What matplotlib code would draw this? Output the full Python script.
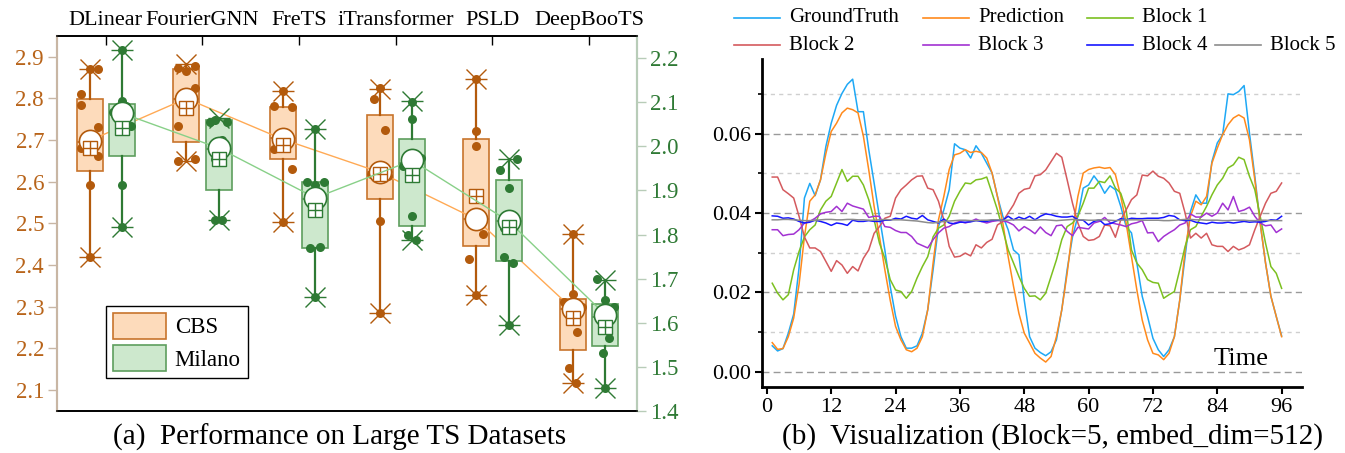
import numpy as np
import matplotlib
matplotlib.use('Agg')
import matplotlib.pyplot as plt
import matplotlib.patches as mpatches
from matplotlib.lines import Line2D
from matplotlib.ticker import MultipleLocator, FormatStrFormatter

plt.rcParams['font.family'] = ['Liberation Serif', 'DejaVu Serif']

# ---------------- (a) box data ----------------
models = ['DLinear', 'FourierGNN', 'FreTS', 'iTransformer', 'PSLD', 'DeepBooTS']

cbs_q1 = [2.626, 2.695, 2.654, 2.560, 2.446, 2.197]
cbs_med = [2.695, 2.800, 2.706, 2.623, 2.510, 2.294]
cbs_q3 = [2.798, 2.871, 2.780, 2.760, 2.703, 2.320]
cbs_lo = [2.419, 2.650, 2.503, 2.286, 2.328, 2.118]
cbs_hi = [2.871, 2.882, 2.818, 2.822, 2.846, 2.476]
cbs_mean = [2.699, 2.800, 2.702, 2.623, 2.510, 2.294]
cbs_square = [2.682, 2.778, 2.688, 2.618, 2.566, 2.274]
cbs_points = [
    [2.871, 2.872, 2.810, 2.784, 2.731, 2.682, 2.662, 2.592, 2.419],
    [2.874, 2.866, 2.878, 2.826, 2.735, 2.655, 2.650],
    [2.818, 2.782, 2.780, 2.720, 2.678, 2.630, 2.503],
    [2.826, 2.800, 2.724, 2.618, 2.614, 2.507, 2.286],
    [2.846, 2.723, 2.686, 2.474, 2.416, 2.328],
    [2.476, 2.332, 2.311, 2.300, 2.240, 2.154, 2.118],
]
cbs_jitter = [
    [0, 1, -1, -1, 1, -1, 1, 0, 0],
    [-1, 0, 1, 1, -1, 1, -1],
    [0, -1, 1, 0, -1, 1, 0],
    [0, -0.6, 0.6, -1, 1, 0, 0],
    [0, 0, 0, 0.8, -0.8, 0],
    [0, 0, -1, 1, 0.5, -0.5, 0.3],
]

mil_q1 = [1.979, 1.901, 1.769, 1.820, 1.740, 1.548]
mil_med = [2.075, 1.994, 1.881, 1.962, 1.830, 1.614]
mil_q3 = [2.096, 2.059, 1.918, 2.016, 1.924, 1.643]
mil_lo = [1.818, 1.833, 1.659, 1.788, 1.595, 1.453]
mil_hi = [2.219, 2.064, 2.039, 2.102, 1.971, 1.697]
mil_mean = [2.075, 1.996, 1.883, 1.968, 1.830, 1.618]
mil_square = [2.041, 1.971, 1.856, 1.935, 1.818, 1.590]
mil_points = [
    [2.219, 2.103, 2.077, 2.077, 2.092, 2.045, 1.913, 1.818],
    [2.055, 2.059, 2.055, 2.015, 1.971, 1.977, 1.833, 1.833],
    [2.039, 1.918, 1.913, 1.918, 1.852, 1.769, 1.771, 1.659],
    [2.100, 2.062, 1.956, 1.969, 1.973, 1.841, 1.798, 1.788],
    [1.947, 1.971, 1.905, 1.841, 1.815, 1.748, 1.735, 1.595],
    [1.699, 1.652, 1.635, 1.614, 1.614, 1.565, 1.531, 1.453],
]
mil_jitter = [
    [0, 0, -1, -0.3, 0.5, 1, 0, 0],
    [-1, -0.4, 1, 0.4, -0.4, 0.4, -0.4, 0.4],
    [0, -1, 0, 1, 0, -0.6, 0.5, 0],
    [0, 0, -1, 0, 1, 0, -0.5, 0.5],
    [-1, 1, 0, 0.5, -0.6, -0.6, 0.5, 0],
    [-1, 0, 1, -0.6, 0.6, 0.4, -0.3, 0],
]

# ---------------- (b) series ----------------
steps = list(range(1, 97))
ground_truth = [
    0.0065, 0.0052, 0.0058, 0.0097, 0.0145, 0.0262, 0.0438, 0.0475, 0.0444, 0.0484, 0.0568, 0.0627,
    0.0672, 0.0702, 0.0725, 0.0738, 0.0656, 0.0656, 0.0560, 0.0476, 0.0390, 0.0307, 0.0215, 0.0140,
    0.0088, 0.0059, 0.0059, 0.0065, 0.0097, 0.0156, 0.0257, 0.0366, 0.0408, 0.0459, 0.0575, 0.0564,
    0.0560, 0.0539, 0.0570, 0.0551, 0.0526, 0.0501, 0.0442, 0.0392, 0.0358, 0.0307, 0.0295, 0.0180,
    0.0088, 0.0059, 0.0048, 0.0040, 0.0050, 0.0080, 0.0156, 0.0257, 0.0340, 0.0392, 0.0463, 0.0471,
    0.0494, 0.0476, 0.0450, 0.0469, 0.0459, 0.0417, 0.0366, 0.0350, 0.0274, 0.0190, 0.0139, 0.0084,
    0.0055, 0.0038, 0.0055, 0.0088, 0.0180, 0.0290, 0.0404, 0.0446, 0.0425, 0.0425, 0.0530, 0.0577,
    0.0598, 0.0701, 0.0699, 0.0707, 0.0722, 0.0602, 0.0493, 0.0375, 0.0274, 0.0190, 0.0139, 0.0090]
prediction = [
    0.0073, 0.0056, 0.0058, 0.0088, 0.0135, 0.0220, 0.0340, 0.0430, 0.0446, 0.0484, 0.0550, 0.0606,
    0.0627, 0.0653, 0.0665, 0.0661, 0.0653, 0.0594, 0.0509, 0.0417, 0.0340, 0.0257, 0.0180, 0.0114,
    0.0080, 0.0055, 0.0050, 0.0059, 0.0088, 0.0156, 0.0274, 0.0383, 0.0442, 0.0510, 0.0547, 0.0551,
    0.0560, 0.0553, 0.0556, 0.0553, 0.0539, 0.0501, 0.0442, 0.0375, 0.0290, 0.0215, 0.0147, 0.0097,
    0.0072, 0.0046, 0.0034, 0.0024, 0.0038, 0.0088, 0.0156, 0.0248, 0.0358, 0.0442, 0.0501, 0.0510,
    0.0514, 0.0516, 0.0513, 0.0515, 0.0497, 0.0442, 0.0375, 0.0290, 0.0206, 0.0130, 0.0080, 0.0046,
    0.0042, 0.0030, 0.0046, 0.0088, 0.0180, 0.0307, 0.0392, 0.0430, 0.0421, 0.0442, 0.0526, 0.0564,
    0.0598, 0.0623, 0.0640, 0.0648, 0.0640, 0.0585, 0.0484, 0.0375, 0.0274, 0.0190, 0.0139, 0.0088]
block1 = [
    0.0223, 0.0198, 0.0181, 0.0194, 0.0257, 0.0303, 0.0340, 0.0358, 0.0370, 0.0408, 0.0430, 0.0442,
    0.0476, 0.0510, 0.0480, 0.0493, 0.0493, 0.0471, 0.0434, 0.0383, 0.0324, 0.0286, 0.0232, 0.0206,
    0.0202, 0.0185, 0.0202, 0.0236, 0.0265, 0.0290, 0.0340, 0.0362, 0.0370, 0.0392, 0.0430, 0.0455,
    0.0476, 0.0474, 0.0484, 0.0486, 0.0491, 0.0450, 0.0408, 0.0358, 0.0307, 0.0274, 0.0240, 0.0210,
    0.0190, 0.0191, 0.0181, 0.0198, 0.0240, 0.0282, 0.0333, 0.0366, 0.0375, 0.0392, 0.0425, 0.0463,
    0.0463, 0.0480, 0.0477, 0.0494, 0.0463, 0.0450, 0.0408, 0.0307, 0.0274, 0.0257, 0.0232, 0.0225,
    0.0223, 0.0185, 0.0194, 0.0202, 0.0257, 0.0316, 0.0358, 0.0366, 0.0392, 0.0417, 0.0446, 0.0471,
    0.0488, 0.0514, 0.0522, 0.0541, 0.0535, 0.0493, 0.0459, 0.0392, 0.0324, 0.0265, 0.0248, 0.0210]
block2 = [
    0.0491, 0.0491, 0.0459, 0.0449, 0.0438, 0.0392, 0.0340, 0.0312, 0.0312, 0.0303, 0.0278, 0.0253,
    0.0280, 0.0269, 0.0248, 0.0265, 0.0254, 0.0286, 0.0307, 0.0349, 0.0366, 0.0387, 0.0392, 0.0438,
    0.0459, 0.0471, 0.0484, 0.0493, 0.0494, 0.0463, 0.0459, 0.0430, 0.0383, 0.0316, 0.0289, 0.0291,
    0.0299, 0.0292, 0.0320, 0.0312, 0.0326, 0.0334, 0.0370, 0.0379, 0.0400, 0.0421, 0.0450, 0.0460,
    0.0463, 0.0494, 0.0497, 0.0509, 0.0530, 0.0551, 0.0541, 0.0484, 0.0425, 0.0375, 0.0341, 0.0331,
    0.0333, 0.0341, 0.0370, 0.0368, 0.0339, 0.0383, 0.0408, 0.0434, 0.0446, 0.0496, 0.0494, 0.0506,
    0.0493, 0.0488, 0.0476, 0.0455, 0.0450, 0.0400, 0.0337, 0.0349, 0.0337, 0.0349, 0.0320, 0.0316,
    0.0316, 0.0303, 0.0316, 0.0307, 0.0312, 0.0320, 0.0358, 0.0392, 0.0425, 0.0450, 0.0455, 0.0476]
block3 = [
    0.0358, 0.0358, 0.0343, 0.0346, 0.0347, 0.0358, 0.0375, 0.0379, 0.0387, 0.0398, 0.0402, 0.0404,
    0.0417, 0.0404, 0.0425, 0.0418, 0.0414, 0.0410, 0.0389, 0.0392, 0.0392, 0.0366, 0.0364, 0.0356,
    0.0351, 0.0351, 0.0341, 0.0324, 0.0318, 0.0312, 0.0333, 0.0350, 0.0362, 0.0366, 0.0375, 0.0379,
    0.0375, 0.0379, 0.0385, 0.0379, 0.0375, 0.0379, 0.0381, 0.0381, 0.0377, 0.0370, 0.0355, 0.0366,
    0.0358, 0.0348, 0.0365, 0.0351, 0.0343, 0.0368, 0.0370, 0.0354, 0.0343, 0.0364, 0.0362, 0.0360,
    0.0375, 0.0379, 0.0389, 0.0376, 0.0373, 0.0370, 0.0366, 0.0373, 0.0376, 0.0381, 0.0350, 0.0351,
    0.0328, 0.0341, 0.0350, 0.0358, 0.0370, 0.0375, 0.0398, 0.0390, 0.0390, 0.0400, 0.0392, 0.0400,
    0.0425, 0.0408, 0.0442, 0.0404, 0.0408, 0.0415, 0.0392, 0.0375, 0.0368, 0.0370, 0.0351, 0.0360]
block4 = [
    0.0393, 0.0392, 0.0387, 0.0388, 0.0385, 0.0379, 0.0375, 0.0377, 0.0382, 0.0379, 0.0375, 0.0369,
    0.0375, 0.0373, 0.0369, 0.0382, 0.0379, 0.0379, 0.0381, 0.0379, 0.0379, 0.0382, 0.0382, 0.0387,
    0.0385, 0.0392, 0.0387, 0.0385, 0.0394, 0.0383, 0.0379, 0.0375, 0.0385, 0.0375, 0.0373, 0.0377,
    0.0377, 0.0378, 0.0381, 0.0379, 0.0379, 0.0382, 0.0382, 0.0382, 0.0392, 0.0383, 0.0390, 0.0385,
    0.0392, 0.0383, 0.0392, 0.0398, 0.0396, 0.0392, 0.0390, 0.0390, 0.0392, 0.0383, 0.0382, 0.0370,
    0.0379, 0.0383, 0.0371, 0.0373, 0.0379, 0.0386, 0.0383, 0.0387, 0.0386, 0.0386, 0.0387, 0.0387,
    0.0387, 0.0389, 0.0394, 0.0392, 0.0383, 0.0381, 0.0382, 0.0377, 0.0375, 0.0373, 0.0377, 0.0375,
    0.0375, 0.0377, 0.0375, 0.0377, 0.0379, 0.0377, 0.0378, 0.0377, 0.0379, 0.0383, 0.0382, 0.0392]
block5 = [
    0.0383, 0.0383, 0.0384, 0.0384, 0.0383, 0.0382, 0.0381, 0.0381, 0.0382, 0.0383, 0.0384, 0.0384,
    0.0383, 0.0383, 0.0384, 0.0384, 0.0383, 0.0383, 0.0382, 0.0382, 0.0383, 0.0384, 0.0383, 0.0383,
    0.0383, 0.0382, 0.0381, 0.0380, 0.0378, 0.0376, 0.0375, 0.0377, 0.0379, 0.0380, 0.0381, 0.0382,
    0.0382, 0.0381, 0.0381, 0.0382, 0.0382, 0.0383, 0.0383, 0.0382, 0.0382, 0.0383, 0.0383, 0.0383,
    0.0382, 0.0382, 0.0383, 0.0383, 0.0382, 0.0381, 0.0382, 0.0383, 0.0384, 0.0383, 0.0383, 0.0382,
    0.0382, 0.0383, 0.0383, 0.0382, 0.0381, 0.0382, 0.0383, 0.0383, 0.0383, 0.0382, 0.0382, 0.0382,
    0.0382, 0.0381, 0.0381, 0.0382, 0.0383, 0.0384, 0.0384, 0.0383, 0.0383, 0.0382, 0.0382, 0.0382,
    0.0381, 0.0381, 0.0382, 0.0382, 0.0382, 0.0381, 0.0381, 0.0382, 0.0382, 0.0381, 0.0381, 0.0381]

series = [
    ('GroundTruth', ground_truth, '#1ea8f5'),
    ('Prediction', prediction, '#ff8a1c'),
    ('Block 1', block1, '#7cc020'),
    ('Block 2', block2, '#d45a5e'),
    ('Block 3', block3, '#a232d2'),
    ('Block 4', block4, '#1616ff'),
    ('Block 5', block5, '#8c8c8c'),
]

W, H = 1345, 453
fig = plt.figure(figsize=(W / 100, H / 100), dpi=100)


def px_axes(left, top, right, bottom):
    return fig.add_axes([left / W, 1 - bottom / H, (right - left) / W, (bottom - top) / H])


# ================= (a) =================
ax1 = px_axes(57.3, 36, 637.3, 411)
ax2 = ax1.twinx()
pos = np.arange(1, len(models) + 1)
cbs_pos = pos - 0.165
mil_pos = pos + 0.17


def draw_group(ax, xs, q1, med, q3, lo, hi, means, squares, pts, jit,
               fill, edge, dark, line_c):
    stats = [dict(q1=a, med=b, q3=c, whislo=d, whishi=e, fliers=[])
             for a, b, c, d, e in zip(q1, med, q3, lo, hi)]
    ax.bxp(stats, positions=xs, widths=0.27, patch_artist=True,
           showcaps=False, showfliers=False, manage_ticks=False,
           boxprops=dict(facecolor=fill, edgecolor=edge, linewidth=1.2),
           whiskerprops=dict(color=dark, linewidth=1.6),
           medianprops=dict(color=edge, linewidth=1.3), zorder=2)
    ax.plot(xs, means, color=line_c, lw=1.0, zorder=3)
    for x, vals, js in zip(xs, pts, jit):
        ax.plot(x + np.array(js) * 0.09, vals, 'o', ms=6.5, color=dark,
                mec='none', zorder=4)
    for ends in (lo, hi):
        ax.plot(xs, ends, 'x', ms=14, mew=1.0, color=dark, zorder=4)
        ax.plot(xs, ends, '_', ms=16, mew=1.0, color=dark, zorder=4)
    ax.plot(xs, means, 'o', ms=16, mfc='white', mec=dark, mew=1.2, zorder=5)
    ax.plot(xs, squares, 's', ms=9.5, mfc='white', mec=dark, mew=1.0, zorder=6)
    ax.plot(xs, squares, '+', ms=9.5, mew=1.0, color=dark, zorder=7)


cbs_fill, cbs_edge, cbs_dark = '#fddbbb', '#c8742c', '#b35a0c'
mil_fill, mil_edge, mil_dark = '#cde8cd', '#5e9e5e', '#2e7a34'

draw_group(ax1, cbs_pos, cbs_q1, cbs_med, cbs_q3, cbs_lo, cbs_hi, cbs_mean,
           cbs_square, cbs_points, cbs_jitter, cbs_fill, cbs_edge, cbs_dark, '#ffaa55')
draw_group(ax2, mil_pos, mil_q1, mil_med, mil_q3, mil_lo, mil_hi, mil_mean,
           mil_square, mil_points, mil_jitter, mil_fill, mil_edge, mil_dark, '#88d088')

ax1.set_xlim(0.5, 6.5)
ax1.set_ylim(2.05, 2.95)
ax2.set_ylim(1.4, 2.25)
ax1.set_yticks(np.arange(2.1, 2.91, 0.1))
ax2.set_yticks(np.arange(1.4, 2.21, 0.1))
ax1.yaxis.set_major_formatter(FormatStrFormatter('%.1f'))
ax2.yaxis.set_major_formatter(FormatStrFormatter('%.1f'))
ax1.xaxis.tick_top()
ax1.set_xticks(pos)
ax1.set_xticklabels(models, fontsize=16)
ax1.tick_params(axis='x', direction='in', length=6.5, width=1.0, pad=4, top=True, bottom=False)
ax1.tick_params(axis='y', direction='out', length=6.5, width=1.0, colors='#c8b6a4',
                labelcolor='#b8641a', labelsize=16.5, pad=3)
ax2.tick_params(axis='y', direction='out', length=6.5, width=1.0, colors='#b8ccb8',
                labelcolor='#2f7a35', labelsize=16.5, pad=3)
for ax in (ax1, ax2):
    ax.spines['top'].set_color('black')
    ax.spines['bottom'].set_color('black')
    ax.spines['top'].set_linewidth(1.2)
    ax.spines['bottom'].set_linewidth(1.2)
    ax.spines['left'].set_color('#c8b6a4')
    ax.spines['right'].set_color('#b8ccb8')
    ax.spines['left'].set_linewidth(1.5)
    ax.spines['right'].set_linewidth(1.5)

handles = [mpatches.Patch(facecolor=cbs_fill, edgecolor=cbs_edge, lw=1.2, label='CBS'),
           mpatches.Patch(facecolor=mil_fill, edgecolor=mil_edge, lw=1.2, label='Milano')]
leg = ax2.legend(handles=handles, loc='lower left', bbox_to_anchor=(0.084, 0.088),
                 borderaxespad=0, fontsize=16.5, handlelength=2.3, handleheight=1.35,
                 handletextpad=0.4, borderpad=0.3, labelspacing=0.3, fancybox=False,
                 framealpha=1)
leg.get_frame().set_edgecolor('black')
leg.get_frame().set_linewidth(1.0)
leg.set_zorder(10)

fig.text(340 / W, 1 - 437 / H, '(a)  Performance on Large TS Datasets',
         ha='center', va='center', fontsize=21)

# ================= (b) =================
ax3 = px_axes(762, 59, 1302, 387)
for name, vals, color in series:
    ax3.plot(steps, vals, color=color, lw=1.1, label=name)

ax3.set_xlim(-0.91, 99.8)
ax3.set_ylim(-0.0039, 0.0789)
ax3.set_xticks(range(0, 97, 12))
ax3.yaxis.set_major_locator(MultipleLocator(0.02))
ax3.yaxis.set_minor_locator(MultipleLocator(0.01))
ax3.yaxis.set_major_formatter(FormatStrFormatter('%.2f'))
ax3.yaxis.grid(True, which='major', ls=(0, (5, 3)), color='#9a9a9a', lw=1.0)
ax3.yaxis.grid(True, which='minor', ls=(0, (3, 3)), color='#cfcfcf', lw=1.0)
ax3.set_axisbelow(True)
ax3.spines['top'].set_visible(False)
ax3.spines['right'].set_visible(False)
ax3.spines['left'].set_linewidth(2.0)
ax3.spines['bottom'].set_linewidth(2.0)
ax3.tick_params(axis='both', which='major', direction='out', length=5, width=1.5,
                labelsize=16, pad=3)
ax3.tick_params(axis='y', which='minor', direction='out', length=3, width=1.2)
ax3.text(88.5, 0.0032, 'Time', ha='center', va='center', fontsize=19)

legend_slots = [(734, 18), (923, 18), (1087, 18), (734, 45), (923, 45), (1087, 45), (1215, 45)]
for (x0, y0), (name, vals, color) in zip(legend_slots, series):
    fig.add_artist(Line2D([x0 / W, (x0 + 46) / W], [1 - y0 / H, 1 - y0 / H],
                          color=color, lw=1.2))
    fig.text((x0 + 55) / W, 1 - y0 / H, name, ha='left', va='center', fontsize=15)

fig.text(1052 / W, 1 - 437 / H, '(b)  Visualization (Block=5, embed_dim=512)',
         ha='center', va='center', fontsize=21)

fig.savefig('out.png', dpi=100)
